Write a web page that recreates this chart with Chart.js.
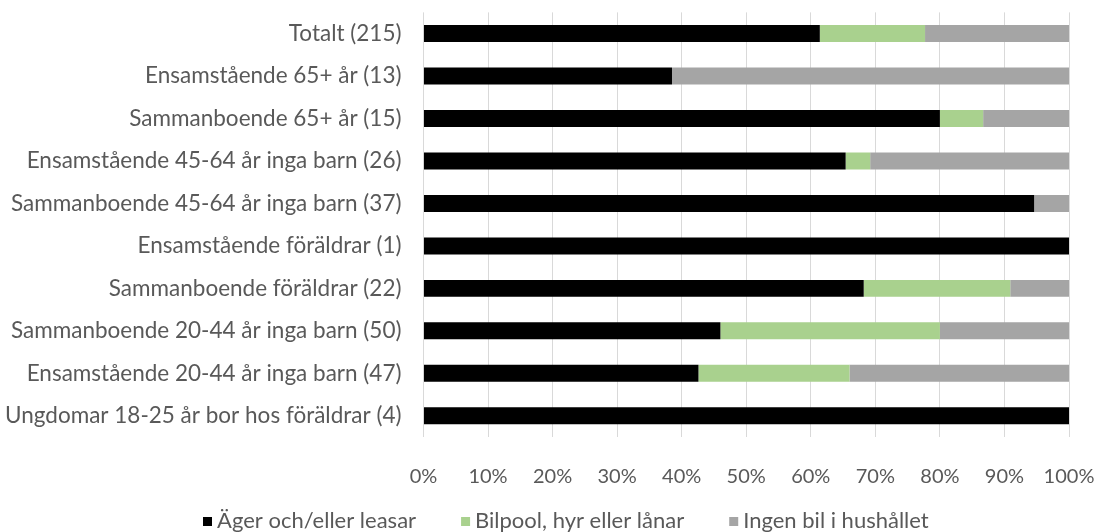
<!DOCTYPE html>
<html lang="sv">
<head>
<meta charset="utf-8">
<title>Tillgång till bil per hushållstyp</title>
<script src="https://cdn.jsdelivr.net/npm/chart.js@4/dist/chart.umd.min.js"></script>
<style>
  html, body { margin: 0; padding: 0; background: #ffffff; }
  #wrap { position: relative; width: 1098px; height: 532px; }
</style>
</head>
<body>
<div id="wrap"><canvas id="chart"></canvas></div>
<script>
// Household types, top to bottom (number of households in parentheses)
const categories = [
  'Totalt (215)',
  'Ensamstående 65+ år (13)',
  'Sammanboende 65+ år (15)',
  'Ensamstående 45-64 år inga barn (26)',
  'Sammanboende 45-64 år inga barn (37)',
  'Ensamstående föräldrar (1)',
  'Sammanboende föräldrar (22)',
  'Sammanboende 20-44 år inga barn (50)',
  'Ensamstående 20-44 år inga barn (47)',
  'Ungdomar 18-25 år bor hos föräldrar (4)'
];

// Share of households (%) per answer
const ownOrLease = [61.4, 38.5, 80.0, 65.4, 94.6, 100, 68.2, 46.0, 42.6, 100];
const carPoolRentBorrow = [16.3, 0, 6.7, 3.8, 0, 0, 22.7, 34.0, 23.4, 0];
const noCarInHousehold = [22.3, 61.5, 13.3, 30.8, 5.4, 0, 9.1, 20.0, 34.0, 0];

const seriesNames = ['Äger och/eller leasar', 'Bilpool, hyr eller lånar', 'Ingen bil i hushållet'];

// Percentage axis ticks
const tickValues = [0, 10, 20, 30, 40, 50, 60, 70, 80, 90, 100];

const textColor = '#595959';
const fontFamily = 'Lato, "Open Sans", sans-serif';

// Legend row under the axis: square key, short gap, label, wide gap to next item
const bottomLegend = {
  id: 'bottomLegend',
  afterDraw(chart) {
    const ctx = chart.ctx;
    const box = 9, keyGap = 5, itemGap = 45, centerX = 566, centerY = 521;
    ctx.save();
    ctx.font = '22px ' + fontFamily;
    ctx.textBaseline = 'middle';
    ctx.textAlign = 'left';
    const items = chart.data.datasets.map(ds => ({
      text: ds.label, color: ds.backgroundColor, w: ctx.measureText(ds.label).width
    }));
    const total = items.reduce((s, it) => s + box + keyGap + it.w, 0) + itemGap * (items.length - 1);
    let x = Math.round(centerX - total / 2);
    items.forEach(it => {
      ctx.fillStyle = it.color;
      ctx.fillRect(x, Math.round(centerY - box / 2), box, box);
      ctx.fillStyle = textColor;
      ctx.fillText(it.text, x + box + keyGap, centerY);
      x += box + keyGap + it.w + itemGap;
    });
    ctx.restore();
  }
};

new Chart(document.getElementById('chart'), {
  type: 'bar',
  data: {
    labels: categories,
    datasets: [
      { label: seriesNames[0], data: ownOrLease, backgroundColor: '#000000' },
      { label: seriesNames[1], data: carPoolRentBorrow, backgroundColor: '#A9D18E' },
      { label: seriesNames[2], data: noCarInHousehold, backgroundColor: '#A5A5A5' }
    ]
  },
  plugins: [bottomLegend],
  options: {
    indexAxis: 'y',
    responsive: true,
    maintainAspectRatio: false,
    animation: false,
    events: [],
    datasets: {
      bar: { barPercentage: 0.4, categoryPercentage: 1.0, borderWidth: 0 }
    },
    layout: {
      padding: { top: 12, right: 29, bottom: 43, left: 5 }
    },
    scales: {
      x: {
        stacked: true,
        min: 0,
        max: 100,
        afterBuildTicks: (scale) => {
          scale.ticks = tickValues.map(v => ({ value: v }));
        },
        grid: {
          color: '#D9D9D9',
          lineWidth: 1,
          drawTicks: true,
          tickLength: 28,
          tickColor: 'rgba(0,0,0,0)'
        },
        border: { display: false },
        ticks: {
          padding: 0,
          color: textColor,
          font: { family: fontFamily, size: 20 },
          maxRotation: 0,
          callback: (v) => v + '%'
        }
      },
      y: {
        stacked: true,
        grid: {
          display: true,
          drawOnChartArea: false,
          drawTicks: true,
          tickLength: 22,
          tickColor: 'rgba(0,0,0,0)'
        },
        border: { display: false },
        ticks: {
          padding: 0,
          color: textColor,
          font: { family: fontFamily, size: 22.5, lineHeight: 1.1 }
        }
      }
    },
    plugins: {
      tooltip: { enabled: false },
      legend: { display: false }
    }
  }
});
</script>
</body>
</html>
